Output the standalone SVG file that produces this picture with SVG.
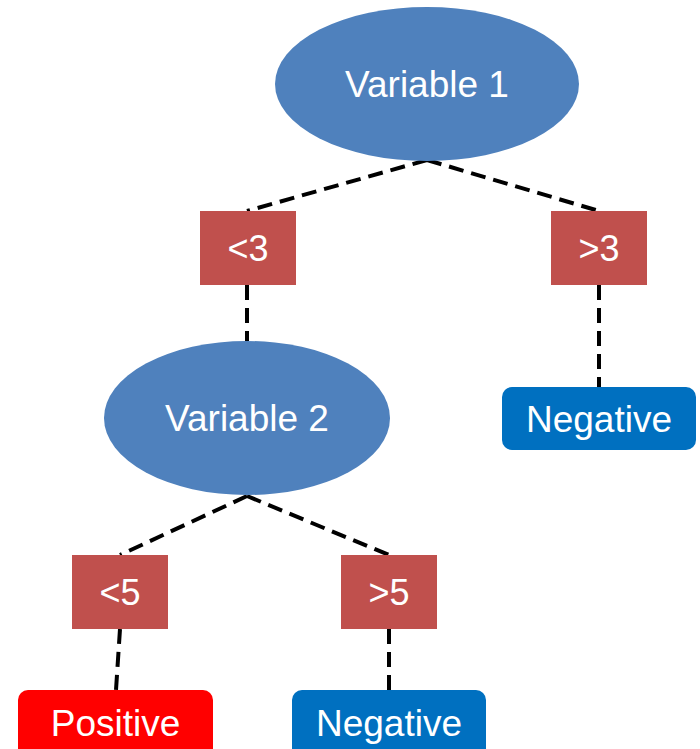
<svg xmlns="http://www.w3.org/2000/svg" width="700" height="749" viewBox="0 0 700 749">
<style>
.var{fill:#4F81BD}
.cond{fill:#C0504D}
.neg{fill:#0070C0}
.pos{fill:#FF0000}
text{font-family:"Liberation Sans",Arial,sans-serif;fill:#fff;text-anchor:middle}
.big{font-size:37px}
.mid{font-size:36px}
.conn line{stroke:#000;stroke-width:4;stroke-dasharray:15 8;fill:none}
</style>
<rect width="700" height="749" fill="#fff"/>
<g class="conn" id="connectors">
<line x1="427" y1="160" x2="247" y2="211"/>
<line x1="427" y1="160" x2="599" y2="211"/>
<line x1="247" y1="285" x2="247" y2="341"/>
<line x1="599" y1="285" x2="599" y2="387"/>
<line x1="247" y1="496" x2="120" y2="555"/>
<line x1="247" y1="496" x2="389" y2="555"/>
<line x1="120" y1="629" x2="116" y2="690"/>
<line x1="389" y1="629" x2="389" y2="690"/>
</g>
<g id="var1"><ellipse class="var" cx="427" cy="84" rx="152" ry="77"/><text class="big" x="427" y="97">Variable 1</text></g>
<g id="lt3"><rect class="cond" x="200" y="211" width="96" height="74"/><text class="mid" x="248" y="261">&lt;3</text></g>
<g id="gt3"><rect class="cond" x="551" y="211" width="96" height="74"/><text class="mid" x="599" y="261">&gt;3</text></g>
<g id="neg1"><rect class="neg" x="502" y="387" width="194" height="63" rx="10"/><text class="big" x="599" y="432">Negative</text></g>
<g id="var2"><ellipse class="var" cx="247" cy="418" rx="143" ry="77"/><text class="big" x="247" y="431">Variable 2</text></g>
<g id="lt5"><rect class="cond" x="72" y="555" width="96" height="74"/><text class="mid" x="120" y="605">&lt;5</text></g>
<g id="gt5"><rect class="cond" x="341" y="555" width="96" height="74"/><text class="mid" x="389" y="605">&gt;5</text></g>
<g id="pos"><rect class="pos" x="18" y="690" width="195" height="70" rx="10"/><text class="big" x="115.5" y="736">Positive</text></g>
<g id="neg2"><rect class="neg" x="292" y="690" width="194" height="70" rx="10"/><text class="big" x="389" y="736">Negative</text></g>
</svg>
